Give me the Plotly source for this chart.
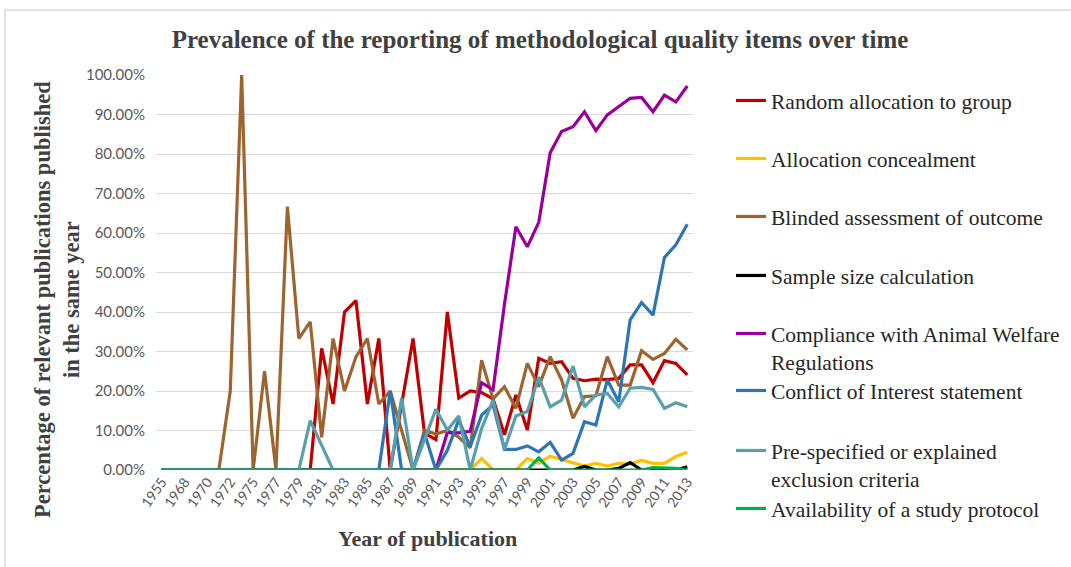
import plotly.graph_objects as go

# Publication years (categorical axis, one point per year with data)
years = ["1955", "1966", "1968", "1969", "1970", "1971", "1972", "1973",
         "1975", "1976", "1977", "1978", "1979", "1980", "1981", "1982",
         "1983", "1984", "1985", "1986", "1987", "1988", "1989", "1990",
         "1991", "1992", "1993", "1994", "1995", "1996", "1997", "1998",
         "1999", "2000", "2001", "2002", "2003", "2004", "2005", "2006",
         "2007", "2008", "2009", "2010", "2011", "2012", "2013"]

# Percentage of publications reporting each item, per year
random_allocation = [0, 0, 0, 0, 0, 0, 0, 0, 0, 0, 0, 0, 0, 0, 30.8, 16.7,
                     40.0, 42.9, 16.7, 33.3, 0, 16.7, 33.3, 9.3, 7.7, 40.0,
                     18.2, 20.0, 19.6, 18.0, 8.9, 19.0, 10.1, 28.3, 27.0, 27.4,
                     23.2, 22.6, 23.0, 22.9, 23.2, 26.6, 26.6, 22.1, 27.7, 27.0, 24.1]
allocation_concealment = [0, 0, 0, 0, 0, 0, 0, 0, 0, 0, 0, 0, 0, 0, 0, 0,
                          0, 0, 0, 0, 0, 0, 0, 0, 0, 0, 0, 0, 2.9, 0, 0, 0,
                          2.9, 1.7, 3.5, 2.7, 2.0, 1.0, 1.7, 1.0, 1.7, 1.5, 2.4,
                          1.7, 1.7, 3.4, 4.5]
blinded_assessment = [0, 0, 0, 0, 0, 0, 20.0, 100.0, 0, 25.0, 0, 66.7, 33.3,
                      37.5, 8.3, 33.3, 20.0, 28.6, 33.3, 16.7, 20.0, 10.0, 0,
                      10.0, 9.1, 10.0, 8.3, 5.6, 27.8, 18.0, 21.1, 15.6, 27.0,
                      21.1, 28.7, 22.8, 13.1, 18.6, 18.8, 28.7, 21.5, 21.5,
                      30.2, 28.0, 29.5, 33.1, 30.4]
sample_size = [0, 0, 0, 0, 0, 0, 0, 0, 0, 0, 0, 0, 0, 0, 0, 0,
               0, 0, 0, 0, 0, 0, 0, 0, 0, 0, 0, 0, 0, 0, 0, 0,
               0, 0, 0, 0, 0, 0.9, 0, 0, 0.4, 1.9, 0, 0, 0, 0, 0.8]
animal_welfare = [0, 0, 0, 0, 0, 0, 0, 0, 0, 0, 0, 0, 0, 0, 0, 0,
                  0, 0, 0, 0, 0, 0, 0, 0, 0, 9.5, 9.4, 9.8, 22.1, 20.3, 42.0,
                  61.6, 56.5, 62.7, 80.3, 85.7, 86.9, 90.7, 85.9, 89.9, 92.0,
                  94.1, 94.3, 90.7, 94.9, 93.2, 97.2]
conflict_of_interest = [0, 0, 0, 0, 0, 0, 0, 0, 0, 0, 0, 0, 0, 0, 0, 0,
                        0, 0, 0, 0, 20.0, 0, 0, 9.3, 0, 5.0, 12.7, 5.9, 13.9,
                        16.5, 5.2, 5.2, 6.1, 4.6, 7.0, 2.5, 4.2, 12.2, 11.4,
                        22.8, 17.3, 38.0, 42.4, 39.2, 53.8, 57.0, 62.2]
exclusion_criteria = [0, 0, 0, 0, 0, 0, 0, 0, 0, 0, 0, 0, 0, 12.5, 6.25, 0,
                      0, 0, 0, 0, 0, 18.2, 0, 7.7, 15.4, 10.1, 13.7, 0, 10.5,
                      17.7, 5.2, 13.7, 14.8, 23.5, 16.0, 17.7, 26.3, 16.0,
                      19.0, 19.4, 16.0, 20.7, 20.9, 20.4, 15.6, 17.0, 16.0]
study_protocol = [0, 0, 0, 0, 0, 0, 0, 0, 0, 0, 0, 0, 0, 0, 0, 0,
                  0, 0, 0, 0, 0, 0, 0, 0, 0, 0, 0, 0, 0, 0, 0, 0,
                  0, 3.1, 0, 0, 0, 0, 0, 0, 0, 0, 0, 0.6, 0.6, 0.4, 0]

series_names = ["Random allocation to group",
                "Allocation concealment",
                "Blinded assessment of outcome",
                "Sample size calculation",
                "Compliance with Animal Welfare<br>Regulations",
                "Conflict of Interest statement",
                "Pre-specified or explained<br>exclusion criteria",
                "Availability of a study protocol"]
series_values = [random_allocation, allocation_concealment, blinded_assessment,
                 sample_size, animal_welfare, conflict_of_interest,
                 exclusion_criteria, study_protocol]
series_colors = ["#C00000", "#FFC000", "#9C6530", "#000000",
                 "#990099", "#2E75B6", "#5AA0AC", "#00B050"]

W, H = 1071, 567
# plot area in pixels
L, R, T, B = 156, 693, 75, 470


def px_x(px):
    return (px - L) / (R - L)


def px_y(py):
    return (B - py) / (B - T)


# first-line centre of each legend entry (pixels)
legend_rows = [102, 160, 218, 277, 335, 392, 452, 510]

fig = go.Figure()
for k, (name, vals, col) in enumerate(zip(series_names, series_values, series_colors)):
    lg = "legend" if k == 0 else f"legend{k + 1}"
    fig.add_trace(go.Scatter(
        x=years, y=[v / 100 for v in vals], name=name, mode="lines",
        line=dict(color=col, width=3.2), cliponaxis=False, legend=lg,
        hovertemplate="%{x}: %{y:.2%}<extra></extra>"))

serif = "Liberation Serif, Times New Roman, serif"
sans = "Lato, Carlito, Liberation Sans, sans-serif"

legends = {}
for k, row in enumerate(legend_rows):
    key = "legend" if k == 0 else f"legend{k + 1}"
    legends[key] = dict(
        x=px_x(731), xanchor="left", y=px_y(row - 22), yanchor="top",
        bgcolor="rgba(0,0,0,0)", borderwidth=0, valign="top",
        font=dict(family=serif, size=21.5, color="#262626"),
        itemwidth=30, tracegroupgap=0)

fig.update_layout(
    width=W, height=H,
    margin=dict(l=L, r=W - R, t=T, b=H - B, autoexpand=False),
    plot_bgcolor="white", paper_bgcolor="white",
    showlegend=True,
    title=dict(text="<b>Prevalence of the reporting of methodological quality items over time</b>",
               x=540 / W, xref="container", xanchor="center",
               y=1 - 39 / H, yref="container", yanchor="middle",
               font=dict(family=serif, size=25, color="#404040")),
    xaxis=dict(type="category", range=[-0.5, len(years) - 0.5],
               tickmode="array", tickvals=years[::2], ticktext=years[::2],
               tickangle=-55, showgrid=False, zeroline=False,
               showline=False, ticks="",
               tickfont=dict(family=sans, size=14, color="#595959")),
    yaxis=dict(range=[0, 1], dtick=0.1, tickformat=".2%",
               showgrid=True, gridcolor="#D9D9D9", gridwidth=1,
               zeroline=False, showline=False, ticks="",
               ticklabelstandoff=10,
               tickfont=dict(family=sans, size=15, color="#595959")),
    annotations=[
        dict(text="<b>Percentage of relevant publications published<br>in the same year</b>",
             xref="paper", yref="paper", x=px_x(57), y=px_y(300),
             xanchor="center", yanchor="middle", textangle=-90, showarrow=False,
             font=dict(family=serif, size=22.5, color="#404040")),
        dict(text="<b>Year of publication</b>",
             xref="paper", yref="paper", x=px_x(427), y=px_y(538),
             xanchor="center", yanchor="middle", showarrow=False,
             font=dict(family=serif, size=22, color="#404040")),
    ],
    shapes=[dict(type="rect", xref="paper", yref="paper",
                 x0=px_x(5), x1=px_x(1080), y0=px_y(580), y1=px_y(10),
                 line=dict(color="#D9D9D9", width=1.5), layer="below")],
    **legends,
)

fig.write_html("out.html")
